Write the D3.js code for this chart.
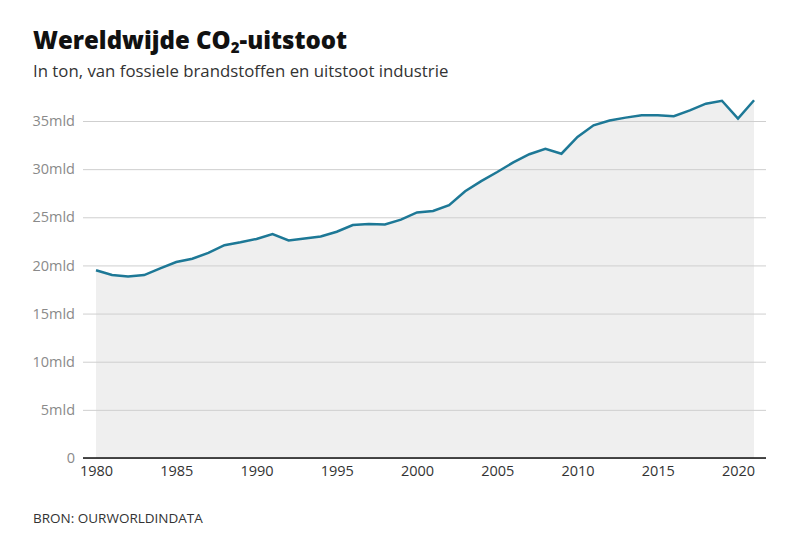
<!DOCTYPE html>
<html>
<head>
<meta charset="utf-8">
<script src="https://cdn.jsdelivr.net/npm/d3@7"></script>
<style>
  html, body { margin: 0; padding: 0; background: #fff; }
  svg { display: block; font-family: "Open Sans", Lato, sans-serif; }
</style>
</head>
<body>
<svg id="chart" width="809" height="546"></svg>
<script>
// Global CO2 emissions (billion tonnes)
const years = [1980, 1981, 1982, 1983, 1984, 1985, 1986, 1987, 1988, 1989,
  1990, 1991, 1992, 1993, 1994, 1995, 1996, 1997, 1998, 1999,
  2000, 2001, 2002, 2003, 2004, 2005, 2006, 2007, 2008, 2009,
  2010, 2011, 2012, 2013, 2014, 2015, 2016, 2017, 2018, 2019,
  2020, 2021];
const emissions = [19.5, 19.0, 18.85, 19.0, 19.7, 20.35, 20.7, 21.3, 22.1, 22.4,
  22.75, 23.25, 22.6, 22.8, 23.0, 23.5, 24.2, 24.3, 24.25, 24.75,
  25.5, 25.65, 26.25, 27.7, 28.75, 29.7, 30.7, 31.55, 32.1, 31.6,
  33.35, 34.55, 35.05, 35.35, 35.6, 35.6, 35.5, 36.1, 36.8, 37.1,
  35.25, 37.15];
const yTicks = [0, 5, 10, 15, 20, 25, 30, 35];
const xTicks = [1980, 1985, 1990, 1995, 2000, 2005, 2010, 2015, 2020];

const data = years.map((y, i) => ({ year: y, value: emissions[i] }));

const svg = d3.select('#chart');

const x = d3.scaleLinear().domain([1980, 2020]).range([96, 738]);
const y = d3.scaleLinear().domain([0, 35]).range([458, 121]);

// Title & subtitle
const title = svg.append('text')
  .attr('x', 33).attr('y', 49)
  .attr('font-size', 24).attr('font-weight', 800)
  .attr('fill', '#111');
title.append('tspan').text('Wereldwijde CO');
title.append('tspan').attr('font-size', 15).attr('dy', 4).text('2');
title.append('tspan').attr('dy', -4).text('-uitstoot');

svg.append('text')
  .attr('x', 33).attr('y', 77)
  .attr('font-size', 16.8).attr('fill', '#333')
  .text('In ton, van fossiele brandstoffen en uitstoot industrie');

// Area
svg.append('path')
  .datum(data)
  .attr('fill', '#efefef')
  .attr('d', d3.area()
    .x(d => x(d.year))
    .y0(y(0))
    .y1(d => y(d.value)));

// Y axis with gridlines
const yAxis = svg.append('g')
  .attr('transform', 'translate(83,0)')
  .call(d3.axisLeft(y).tickValues(yTicks)
    .tickSize(-(766 - 83))
    .tickPadding(8)
    .tickFormat(d => d === 0 ? '0' : d + 'mld'));
yAxis.select('.domain').remove();
yAxis.selectAll('.tick line').attr('stroke', '#cfcfcf').attr('stroke-width', 1);
yAxis.selectAll('.tick text')
  .attr('fill', '#8a8a8a').attr('font-size', 14.5)
  .attr('font-family', '"Open Sans", sans-serif');

// Line
svg.append('path')
  .datum(data)
  .attr('fill', 'none')
  .attr('stroke', '#1d7896')
  .attr('stroke-width', 2.5)
  .attr('stroke-linejoin', 'miter')
  .attr('d', d3.line()
    .x(d => x(d.year))
    .y(d => y(d.value)));

// Baseline
svg.append('line')
  .attr('x1', 83).attr('x2', 766)
  .attr('y1', y(0)).attr('y2', y(0))
  .attr('stroke', '#111').attr('stroke-width', 1.5);

// X axis
const xAxis = svg.append('g')
  .attr('transform', `translate(0,${y(0)})`)
  .call(d3.axisBottom(x).tickValues(xTicks).tickSize(0).tickPadding(8)
    .tickFormat(d3.format('d')));
xAxis.select('.domain').remove();
xAxis.selectAll('.tick text')
  .attr('fill', '#333').attr('font-size', 14.5)
  .attr('font-family', '"Open Sans", sans-serif');

// Source
svg.append('text')
  .attr('x', 33).attr('y', 523)
  .attr('font-size', 13.5).attr('fill', '#333')
  .text('BRON: OURWORLDINDATA');
</script>
</body>
</html>
